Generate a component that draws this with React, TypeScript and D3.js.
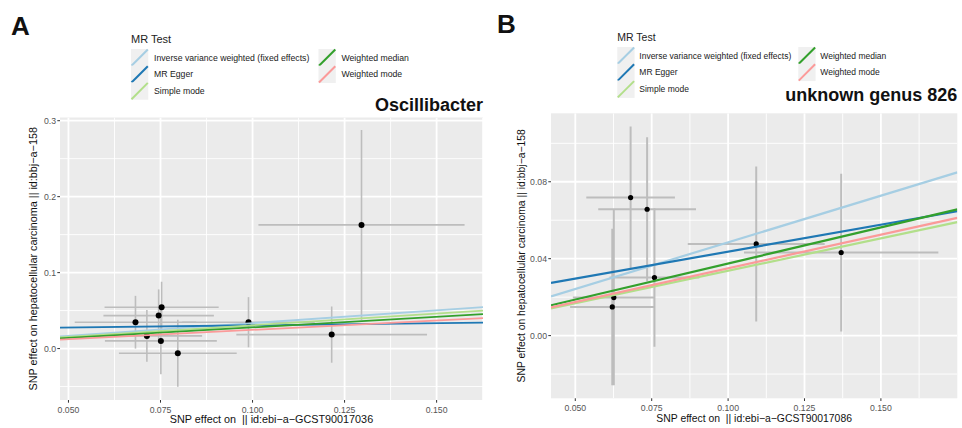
import React from "react";
import * as d3 from "d3";

const FONT = "'Liberation Sans', Arial, Helvetica, sans-serif";

const methods = [
  "Inverse variance weighted (fixed effects)",
  "MR Egger",
  "Simple mode",
  "Weighted median",
  "Weighted mode",
];
const methodColors = ["#a6cee3", "#1f78b4", "#b2df8a", "#33a02c", "#fb9a99"];
// legend is laid out in two columns, filled column-wise
const legendCols = [0, 0, 0, 1, 1];
const legendRows = [0, 1, 2, 0, 1];

// panel A: Oscillibacter
const oscExposure = [0.0682, 0.0753, 0.0745, 0.0713, 0.0751, 0.0797, 0.0989, 0.1215, 0.1296];
const oscOutcome = [0.0347, 0.0545, 0.0434, 0.0167, 0.0101, -0.0061, 0.0347, 0.0184, 0.1628];
const oscExposureSe = [0.0165, 0.0155, 0.015, 0.015, 0.0152, 0.016, 0.018, 0.0259, 0.028];
const oscOutcomeSe = [0.0347, 0.0335, 0.0345, 0.034, 0.044, 0.044, 0.033, 0.037, 0.125];
const oscIntercepts = [0, 0.0249, 0, 0, 0];
const oscSlopes = [0.335, 0.0574, 0.307, 0.279, 0.246];
const oscXTicks = [0.05, 0.075, 0.1, 0.125, 0.15];
const oscYTicks = [0, 0.1, 0.2, 0.3];

// panel B: unknown genus 826
const g826Exposure = [0.0681, 0.0735, 0.1092, 0.137, 0.0759, 0.0626, 0.0621];
const g826Outcome = [0.0718, 0.0657, 0.0477, 0.0432, 0.0302, 0.0198, 0.0149];
const g826ExposureSe = [0.0145, 0.016, 0.0224, 0.0318, 0.0147, 0.0134, 0.0138];
const g826OutcomeSe = [0.037, 0.0374, 0.0403, 0.041, 0.036, 0.0456, 0.0407];
const g826Intercepts = [0, 0.0156, 0, 0, 0];
const g826Slopes = [0.485, 0.2805, 0.337, 0.375, 0.35];
const g826XTicks = [0.05, 0.075, 0.1, 0.125, 0.15];
const g826YTicks = [0, 0.04, 0.08];

const yLabelText = "SNP effect on hepatocellular carcinoma || id:bbj\u2212a\u2212158";

function minorTicks(ticks: number[], domain: number[]) {
  const step = ticks[1] - ticks[0];
  const ext = [ticks[0] - step, ...ticks, ticks[ticks.length - 1] + step];
  const out: number[] = [];
  for (let i = 0; i < ext.length - 1; i++) out.push((ext[i] + ext[i + 1]) / 2);
  return out.filter((v) => v > domain[0] && v < domain[1]);
}

function Panel(props: any) {
  const { id, letter, title, xLabel, exposure, outcome, seX, seY, intercepts, slopes, xTicks, yTicks, xFmt, yFmt, L } = props;
  const x = d3.scaleLinear().domain(L.xDomain).range([L.left, L.right]);
  const y = d3.scaleLinear().domain(L.yDomain).range([L.bottom, L.top]);
  const xMinor = minorTicks(xTicks, L.xDomain);
  const yMinor = minorTicks(yTicks, L.yDomain);
  const fx = d3.format(xFmt);
  const fy = d3.format(yFmt);
  const midY = (L.top + L.bottom) / 2;
  const midX = (L.left + L.right) / 2;

  return (
    <g fontFamily={FONT}>
      <text x={L.letterX} y={L.letterY} fontSize={26} fontWeight="bold" fill="#111">{letter}</text>

      {/* legend */}
      <text x={L.legendX} y={L.legendTitleY} fontSize={L.legendTitleSize} fill="#222">MR Test</text>
      {methods.map((m, i) => {
        const kx = legendCols[i] === 0 ? L.legendX : L.col2X;
        const ky = L.rowTop + legendRows[i] * L.rowStep;
        return (
          <g key={m}>
            <rect x={kx} y={ky} width={17.3} height={17.3} fill="#f0f0f0" />
            <line x1={kx + 0.5} y1={ky + 16.8} x2={kx + 16.8} y2={ky + 0.5} stroke={methodColors[i]} strokeWidth={2} />
            <text x={kx + L.textDx} y={ky + 8.65} dy="0.35em" fontSize={L.legendSize} fill="#1a1a1a">{m}</text>
          </g>
        );
      })}

      <text x={L.right} y={L.titleY} textAnchor="end" fontSize={18} fontWeight="bold" fill="#111">{title}</text>

      {/* panel */}
      <defs>
        <clipPath id={`clip-${id}`}>
          <rect x={L.left} y={L.top} width={L.right - L.left} height={L.bottom - L.top} />
        </clipPath>
      </defs>
      <rect x={L.left} y={L.top} width={L.right - L.left} height={L.bottom - L.top} fill="#ebebeb" />
      <g clipPath={`url(#clip-${id})`}>
        {xMinor.map((v) => (
          <line key={"xm" + v} x1={x(v)} x2={x(v)} y1={L.top} y2={L.bottom} stroke="#fff" strokeWidth={0.9} />
        ))}
        {yMinor.map((v) => (
          <line key={"ym" + v} x1={L.left} x2={L.right} y1={y(v)} y2={y(v)} stroke="#fff" strokeWidth={0.9} />
        ))}
        {xTicks.map((v: number) => (
          <line key={"xM" + v} x1={x(v)} x2={x(v)} y1={L.top} y2={L.bottom} stroke="#fff" strokeWidth={1.8} />
        ))}
        {yTicks.map((v: number) => (
          <line key={"yM" + v} x1={L.left} x2={L.right} y1={y(v)} y2={y(v)} stroke="#fff" strokeWidth={1.8} />
        ))}

        {/* error bars */}
        {exposure.map((ex: number, i: number) => (
          <g key={"eb" + i} stroke="#bdbdbd" strokeWidth={L.barWidth}>
            <line x1={x(ex)} x2={x(ex)} y1={y(outcome[i] - seY[i])} y2={y(outcome[i] + seY[i])} />
            <line x1={x(ex - seX[i])} x2={x(ex + seX[i])} y1={y(outcome[i])} y2={y(outcome[i])} />
          </g>
        ))}
        {exposure.map((ex: number, i: number) => (
          <circle key={"pt" + i} cx={x(ex)} cy={y(outcome[i])} r={L.pointR} fill="#000" />
        ))}

        {/* MR fits */}
        {methods.map((m, i) => {
          const [x0, x1] = L.xDomain;
          return (
            <line
              key={"fit" + m}
              x1={x(x0)}
              y1={y(intercepts[i] + slopes[i] * x0)}
              x2={x(x1)}
              y2={y(intercepts[i] + slopes[i] * x1)}
              stroke={methodColors[i]}
              strokeWidth={L.lineWidth}
            />
          );
        })}
      </g>

      {/* axes */}
      {xTicks.map((v: number) => (
        <g key={"xt" + v}>
          <line x1={x(v)} x2={x(v)} y1={L.bottom} y2={L.bottom + 2.7} stroke="#333" strokeWidth={1} />
          <text x={x(v)} y={L.bottom + 12.5} textAnchor="middle" fontSize={8.7} fill="#555">{fx(v)}</text>
        </g>
      ))}
      {yTicks.map((v: number) => (
        <g key={"yt" + v}>
          <line x1={L.left - 2.7} x2={L.left} y1={y(v)} y2={y(v)} stroke="#333" strokeWidth={1} />
          <text x={L.left - 4} y={y(v)} dy="0.35em" textAnchor="end" fontSize={8.7} fill="#555">{fy(v)}</text>
        </g>
      ))}
      <text
        x={midX}
        y={L.xLabelY}
        textAnchor="middle"
        fontSize={L.axisTitleSize}
        fill="#111"
        style={{ whiteSpace: "pre" }}
      >
        {xLabel}
      </text>
      <text
        transform={`translate(${L.yLabelX},${midY}) rotate(-90)`}
        textAnchor="middle"
        dy="0.35em"
        fontSize={L.axisTitleSize}
        fill="#111"
      >
        {yLabelText}
      </text>
    </g>
  );
}

const layoutA = {
  left: 60, right: 483, top: 117.5, bottom: 400,
  xDomain: [0.0477, 0.1626], yDomain: [-0.0677, 0.3042],
  letterX: 11, letterY: 35,
  legendX: 131, col2X: 318.5, legendTitleY: 43.3, legendTitleSize: 11,
  rowTop: 49, rowStep: 16.7, textDx: 23, legendSize: 8.7,
  titleY: 111, xLabelY: 423, yLabelX: 33, axisTitleSize: 10.8,
  barWidth: 1.6, pointR: 3, lineWidth: 1.8,
};

const layoutB = {
  left: 551, right: 957.3, top: 113.3, bottom: 398.3,
  xDomain: [0.04205, 0.175], yDomain: [-0.0326, 0.1156],
  letterX: 497, letterY: 33,
  legendX: 617.3, col2X: 798.3, legendTitleY: 41, legendTitleSize: 10.5,
  rowTop: 47, rowStep: 16.8, textDx: 22, legendSize: 8.5,
  titleY: 101, xLabelY: 422, yLabelX: 521.7, axisTitleSize: 10.4,
  barWidth: 2, pointR: 2.6, lineWidth: 2.2,
};

export default function App() {
  return (
    <svg
      width={962}
      height={428}
      style={{ position: "absolute", left: 0, top: 0, background: "#fff" }}
    >
      <Panel
        id="a"
        letter="A"
        title="Oscillibacter"
        xLabel={"SNP effect on  || id:ebi\u2212a\u2212GCST90017036"}
        exposure={oscExposure}
        outcome={oscOutcome}
        seX={oscExposureSe}
        seY={oscOutcomeSe}
        intercepts={oscIntercepts}
        slopes={oscSlopes}
        xTicks={oscXTicks}
        yTicks={oscYTicks}
        xFmt=".3f"
        yFmt=".1f"
        L={layoutA}
      />
      <Panel
        id="b"
        letter="B"
        title="unknown genus 826"
        xLabel={"SNP effect on  || id:ebi\u2212a\u2212GCST90017086"}
        exposure={g826Exposure}
        outcome={g826Outcome}
        seX={g826ExposureSe}
        seY={g826OutcomeSe}
        intercepts={g826Intercepts}
        slopes={g826Slopes}
        xTicks={g826XTicks}
        yTicks={g826YTicks}
        xFmt=".3f"
        yFmt=".2f"
        L={layoutB}
      />
    </svg>
  );
}
